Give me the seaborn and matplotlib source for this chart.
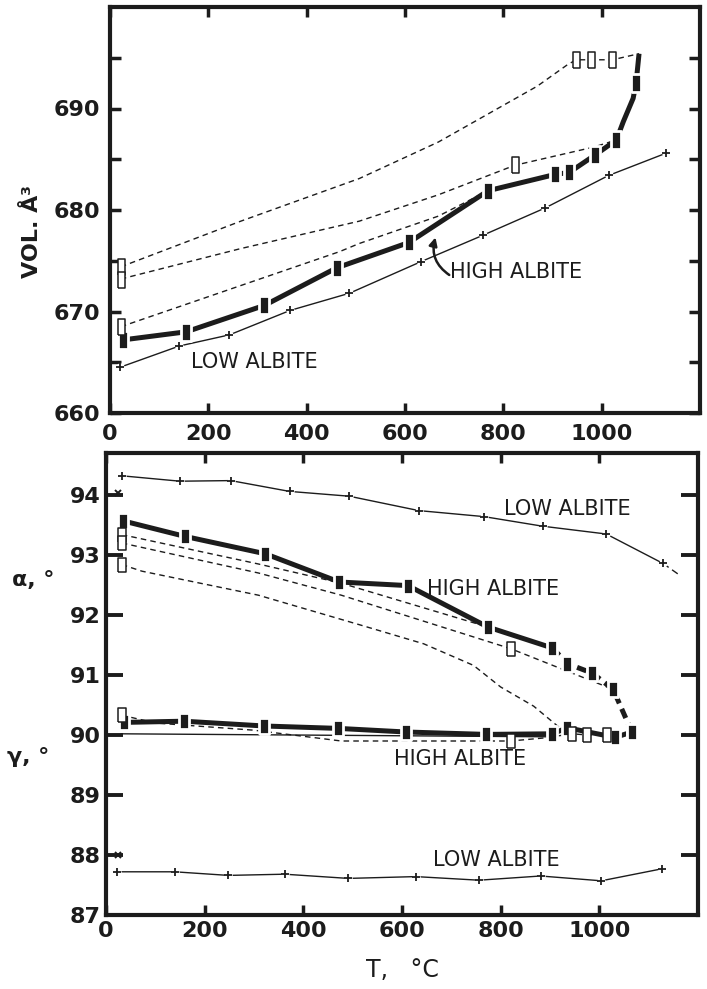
import matplotlib
matplotlib.use("Agg")
import matplotlib.pyplot as plt
import seaborn as sns

# ---------------- unit-cell volume, VOL (A^3) vs T (degC) ----------------
low_vol_T = [20, 141, 243, 366, 487, 632, 758, 885, 1014, 1131]
low_vol_V = [664.5, 666.6, 667.7, 670.1, 671.8, 674.9, 677.5, 680.2, 683.4, 685.6]

high_vol_T = [26, 155, 314, 461, 608, 769, 905, 934, 986, 1030, 1070]
high_vol_V = [667.2, 668.0, 670.6, 674.3, 676.8, 681.9, 683.5, 683.7, 685.4, 686.9, 692.5]
high_vol_top_T = [1030, 1044, 1064, 1070, 1076]
high_vol_top_V = [686.9, 688.7, 691.0, 692.5, 695.4]

dash1_vol_T = [22, 266, 507, 668, 869, 930, 948, 979, 1022, 1076]
dash1_vol_V = [674.4, 678.9, 683.1, 686.7, 692.2, 694.3, 694.8, 694.8, 694.8, 695.4]
dash2_vol_T = [22, 266, 507, 668, 823, 984, 1030]
dash2_vol_V = [673.2, 676.2, 678.9, 681.5, 684.4, 686.2, 686.9]
dash3_vol_T = [22, 467, 507, 668, 769]
dash3_vol_V = [668.5, 675.9, 676.7, 679.4, 681.9]

open_vol_T = [22, 22, 22, 823, 948, 979, 1022]
open_vol_V = [674.4, 673.1, 668.5, 684.4, 694.8, 694.8, 694.8]

# ---------------- alpha and gamma angles (deg) vs T (degC) ----------------
low_alpha_T = [32, 150, 253, 372, 493, 634, 766, 885, 1014, 1129]
low_alpha = [94.32, 94.23, 94.24, 94.06, 93.98, 93.74, 93.64, 93.48, 93.35, 92.86]
low_alpha_end_T = [1129, 1160]
low_alpha_end = [92.86, 92.68]

high_alpha_T = [34, 160, 323, 473, 612, 774, 905, 935, 986, 1028, 1066]
high_alpha = [93.57, 93.31, 93.02, 92.55, 92.49, 91.80, 91.45, 91.19, 91.03, 90.76, 90.05]

dashA_alpha_T = [32, 309, 477, 774]
dashA_alpha = [93.34, 92.85, 92.53, 91.80]
dashB_alpha_T = [32, 309, 477, 820, 1028]
dashB_alpha = [93.20, 92.70, 92.33, 91.44, 90.76]
dashC_alpha_T = [32, 73, 309, 517, 644, 745, 800, 867, 927, 945]
dashC_alpha = [92.84, 92.73, 92.33, 91.83, 91.52, 91.16, 90.80, 90.48, 90.07, 90.02]

low_gamma_T = [22, 139, 248, 362, 491, 628, 756, 881, 1004, 1127]
low_gamma = [87.72, 87.72, 87.66, 87.68, 87.61, 87.64, 87.58, 87.65, 87.57, 87.77]

high_gamma_T = [36, 158, 321, 471, 608, 770, 905, 935, 1032, 1066]
high_gamma = [90.21, 90.23, 90.15, 90.11, 90.05, 90.01, 90.02, 90.12, 89.96, 90.05]

dash_gamma_T = [32, 100, 300, 477, 820, 887, 945, 976, 1016, 1066]
dash_gamma = [90.33, 90.20, 90.08, 89.90, 89.90, 89.95, 90.02, 90.00, 90.00, 90.05]
ref_gamma_T = [30, 900]
ref_gamma = [90.02, 89.97]

open_angle_T = [32, 32, 32, 820, 32, 820, 945, 976, 1016]
open_angle = [93.34, 93.20, 92.84, 91.44, 90.33, 89.90, 90.02, 90.00, 90.00]

lit_T = [25, 25]
lit_angle = [94.03, 88.00]

x_ticks = [0, 200, 400, 600, 800, 1000]

# ---------------- style ----------------
sns.set_theme(style="white")
plt.rcParams["font.family"] = ["DejaVu Sans"]
INK = "#1c1c1c"


def box(w):
    return [(-w, -1), (w, -1), (w, 1), (-w, 1), (-w, -1)]


def curve(ax, x, y, lw, ls="-", z=2):
    sns.lineplot(x=x, y=y, ax=ax, sort=False, estimator=None, color=INK,
                 linewidth=lw, linestyle=ls, solid_capstyle="butt",
                 dash_capstyle="butt", zorder=z)


def points(ax, x, y, marker, ms, face, edge, mew, z=5):
    sns.lineplot(x=x, y=y, ax=ax, sort=False, estimator=None, color=edge,
                 linestyle="none", marker=marker, markersize=ms,
                 markerfacecolor=face, markeredgecolor=edge,
                 markeredgewidth=mew, zorder=z)


def crosses(ax, x, y):
    # small white gap round each "+" so the thin line is broken there
    points(ax, x, y, "o", 6, "white", "white", 0, z=3)
    points(ax, x, y, "+", 6, INK, INK, 1.3, z=4)


def filled(ax, x, y, ms, w):
    points(ax, x, y, box(w), ms, INK, "white", 2.0, z=5)


def opened(ax, x, y, ms, w):
    points(ax, x, y, box(w), ms, "white", INK, 1.1, z=6)


def frame(ax):
    for s in ax.spines.values():
        s.set_visible(True)
        s.set_linewidth(3.0)
        s.set_color(INK)
    ax.set_xlim(0, 1200)
    ax.set_xticks(x_ticks)
    ax.set_xticklabels([str(t) for t in x_ticks])
    ax.set_xlabel("")
    ax.set_ylabel("")
    ax.tick_params(axis="x", which="both", direction="in", top=True, bottom=True,
                   length=7, width=2.5, color=INK, labelsize=16, labelcolor=INK)
    for lab in ax.get_xticklabels() + ax.get_yticklabels():
        lab.set_fontweight("bold")


fig = plt.figure(figsize=(7.07, 9.89), dpi=100)
fig.patch.set_facecolor("white")
ax1 = fig.add_axes([110 / 707, 1 - 413 / 989, 590 / 707, 406 / 989])
ax2 = fig.add_axes([106 / 707, 1 - 915 / 989, 592 / 707, 462 / 989])

# ---------------- upper panel: volume ----------------
curve(ax1, dash1_vol_T, dash1_vol_V, 1.0, (0, (4, 3)))
curve(ax1, dash2_vol_T, dash2_vol_V, 1.0, (0, (4, 3)))
curve(ax1, dash3_vol_T, dash3_vol_V, 1.0, (0, (4, 3)))
curve(ax1, low_vol_T, low_vol_V, 1.0)
crosses(ax1, low_vol_T, low_vol_V)
curve(ax1, high_vol_T[:-1], high_vol_V[:-1], 3.6)
curve(ax1, high_vol_top_T, high_vol_top_V, 3.6)
filled(ax1, high_vol_T, high_vol_V, 13, 0.5)
opened(ax1, open_vol_T, open_vol_V, 12, 0.42)

ax1.set_ylim(660, 700)
ax1.set_yticks([660, 670, 680, 690])
ax1.set_yticks([665, 675, 685, 695], minor=True)
ax1.tick_params(axis="y", which="both", direction="in", left=True, right=True,
                length=8, width=2.5, color=INK, labelsize=16, labelcolor=INK, pad=7)
ax1.tick_params(axis="x", pad=8)
frame(ax1)

ax1.text(165, 665.0, "LOW ALBITE", fontsize=15, color=INK, ha="left", va="center")
ax1.text(692, 673.9, "HIGH ALBITE", fontsize=15, color=INK, ha="left", va="center")
ax1.annotate("", xy=(662, 677.3), xytext=(690, 673.6),
             arrowprops=dict(arrowstyle="-|>", color=INK, lw=1.8,
                             mutation_scale=12, shrinkA=0, shrinkB=0,
                             connectionstyle="arc3,rad=-0.35"))

# ---------------- lower panel: alpha and gamma ----------------
curve(ax2, dashA_alpha_T, dashA_alpha, 1.0, (0, (4, 3)))
curve(ax2, dashB_alpha_T, dashB_alpha, 1.0, (0, (4, 3)))
curve(ax2, dashC_alpha_T, dashC_alpha, 1.0, (0, (4, 3)))
curve(ax2, dash_gamma_T, dash_gamma, 1.0, (0, (4, 3)))
curve(ax2, ref_gamma_T, ref_gamma, 1.0)

curve(ax2, low_alpha_T, low_alpha, 1.0)
curve(ax2, low_alpha_end_T, low_alpha_end, 1.0, (0, (5, 3)))
crosses(ax2, low_alpha_T, low_alpha)
curve(ax2, low_gamma_T, low_gamma, 1.0)
crosses(ax2, low_gamma_T, low_gamma)

curve(ax2, high_alpha_T[:7], high_alpha[:7], 3.6)
curve(ax2, high_alpha_T[6:], high_alpha[6:], 3.6, (0, (2.0, 1.2)))
curve(ax2, high_gamma_T, high_gamma, 3.6)
filled(ax2, high_alpha_T, high_alpha, 11, 0.6)
filled(ax2, high_gamma_T, high_gamma, 11, 0.6)
opened(ax2, open_angle_T, open_angle, 10, 0.6)
points(ax2, lit_T, lit_angle, "x", 5, INK, INK, 1.4)

ax2.set_ylim(87, 94.7)
ax2.set_yticks([87, 88, 89, 90, 91, 92, 93, 94])
ax2.tick_params(axis="y", which="both", direction="in", left=True, right=True,
                length=12, width=2.8, color=INK, labelsize=16, labelcolor=INK, pad=4)
ax2.tick_params(axis="x", pad=4)
frame(ax2)

ax2.text(806, 93.77, "LOW ALBITE", fontsize=15, color=INK, ha="left", va="center")
ax2.text(651, 92.44, "HIGH ALBITE", fontsize=15, color=INK, ha="left", va="center")
ax2.text(584, 89.60, "HIGH ALBITE", fontsize=15, color=INK, ha="left", va="center")
ax2.text(663, 87.91, "LOW ALBITE", fontsize=15, color=INK, ha="left", va="center")

# ---------------- axis titles ----------------
fig.text(0.045, 1 - 232 / 989, "VOL. Å³", rotation=90, fontsize=16,
         fontweight="bold", color=INK, ha="center", va="center")
fig.text(0.017, 1 - 580 / 989, "α, °", fontsize=16, fontweight="bold",
         color=INK, ha="left", va="center")
fig.text(0.010, 1 - 757 / 989, "γ, °", fontsize=16, fontweight="bold",
         color=INK, ha="left", va="center")
fig.text(402 / 707, 1 - 970 / 989, "T,   °C", fontsize=17, color=INK,
         ha="center", va="center")

fig.savefig("out.png", dpi=100, facecolor="white")
